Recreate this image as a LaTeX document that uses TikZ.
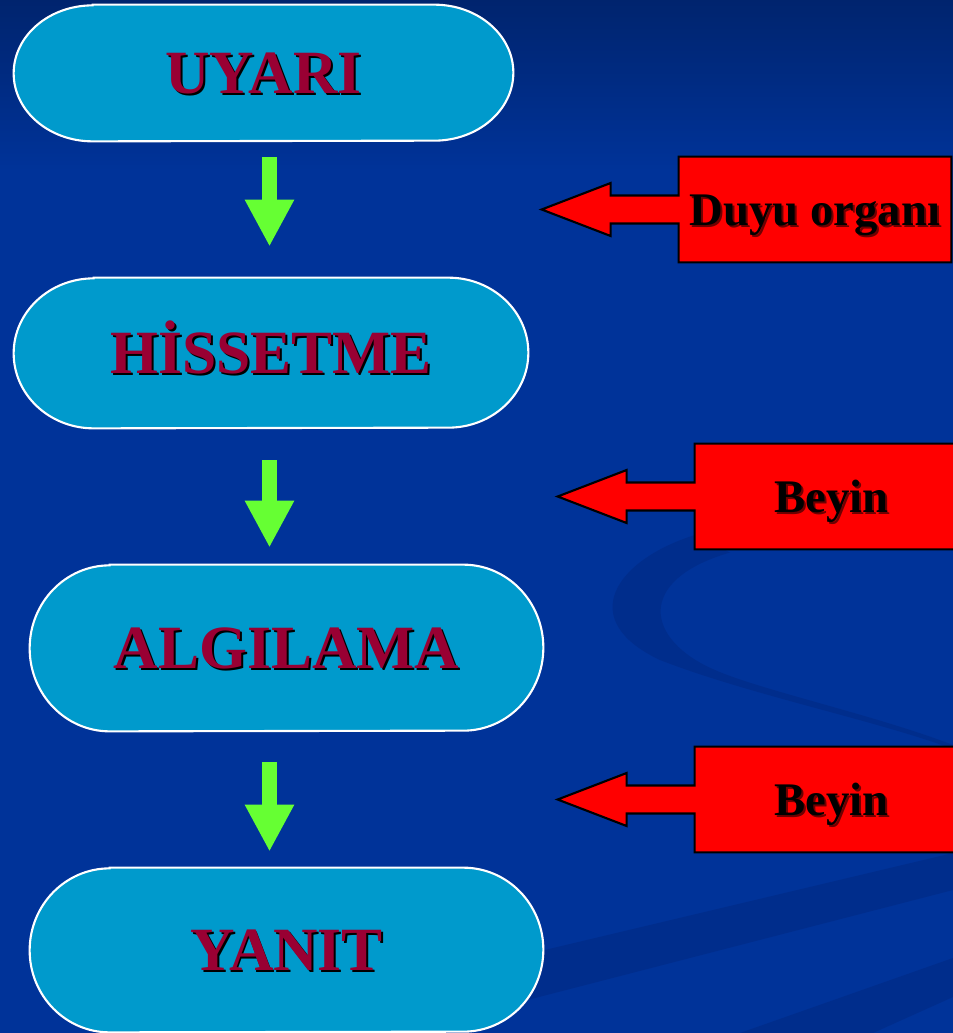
\documentclass[tikz,border=0pt]{standalone}
\usepackage{fontspec}
\setmainfont{Liberation Serif}
\usetikzlibrary{arrows.meta,positioning}
\definecolor{skytop}{RGB}{0,36,110}
\definecolor{skyblue}{RGB}{0,51,153}
\definecolor{swirl}{RGB}{0,45,140}
\definecolor{stagefill}{RGB}{0,154,204}
\definecolor{stagered}{RGB}{153,0,51}
\definecolor{flowgreen}{RGB}{102,255,51}
\definecolor{calloutred}{RGB}{255,0,0}
\definecolor{shadowred}{RGB}{110,0,0}
\pgfdeclarelayer{sky}
\pgfdeclarelayer{shapes}
\pgfsetlayers{sky,shapes,main}
\newcommand{\dropshadowtext}[3]{\rlap{\kern1.1pt\raisebox{-1.1pt}{\textcolor{#2}{#3}}}\textcolor{#1}{#3}}

\begin{document}
\begin{tikzpicture}[
    stage/.style={inner sep=0pt, text height=23.5pt, text depth=0pt,
      font=\bfseries\fontsize{35}{42}\selectfont},
    stadium/.style={fill=stagefill, draw=white, line width=1.2pt},
    flow/.style={flowgreen, line width=0.3cm, -{Triangle[width=0.92cm,length=0.94cm]}},
    callout/.style={inner sep=0pt, text height=17.8pt, text depth=0pt,
      font=\bfseries\fontsize{26.6}{31}\selectfont},
    calloutshape/.style={fill=calloutred, draw=black, line width=1.2pt, line join=miter}]
  \useasboundingbox (0,0) rectangle (19.06,-20.66);

  % background with its swirls
  \begin{pgfonlayer}{sky}
    \fill[skyblue] (0,0) rectangle (19.06,-20.66);
    \shade[top color=skytop, bottom color=skyblue] (0,0) rectangle (19.06,-3.4);
    \fill[swirl] (13.9,-10.7) .. controls (12.3,-11.2) and (11.5,-12.4) .. (13.2,-13.2)
      .. controls (15,-13.9) and (17.5,-14.4) .. (19.06,-14.98) -- (19.06,-14.9)
      .. controls (17.5,-14.3) and (15.2,-13.8) .. (14.3,-13.4)
      .. controls (12.9,-12.8) and (12.7,-11.6) .. (14.6,-11.05) -- cycle;
    \fill[swirl] (9,-19.45) -- (19.06,-17.06) -- (19.06,-17.8) -- (9,-20.4) -- cycle;
    \fill[swirl] (14.8,-20.66) -- (19.06,-19.16) -- (19.06,-19.94) -- (17.46,-20.66) -- cycle;
  \end{pgfonlayer}

  % the four stages
  \node[stage, minimum width=9.98cm, minimum height=2.72cm] (uyari) at (5.27,-1.46)
    {\dropshadowtext{stagered}{black}{UYARI}};
  \node[stage, minimum width=10.28cm, minimum height=3.0cm] (hissetme) at (5.42,-7.06)
    {\dropshadowtext{stagered}{black}{HİSSETME}};
  \node[stage, minimum width=10.26cm, minimum height=3.32cm] (algilama) at (5.73,-12.96)
    {\dropshadowtext{stagered}{black}{ALGILAMA}};
  \node[stage, minimum width=10.26cm, minimum height=3.28cm] (yanit) at (5.73,-19.0)
    {\dropshadowtext{stagered}{black}{YANIT}};

  % the red callouts
  \node[callout, minimum width=5.44cm, minimum height=2.1cm] (duyu) at (16.30,-4.19)
    {\dropshadowtext{black}{shadowred}{Duyu organı}};
  \node[callout, minimum width=5.46cm, minimum height=2.1cm] (beyin1) at (16.63,-9.93)
    {\dropshadowtext{black}{shadowred}{Beyin}};
  \node[callout, minimum width=5.46cm, minimum height=2.1cm] (beyin2) at (16.63,-15.99)
    {\dropshadowtext{black}{shadowred}{Beyin}};

  \begin{pgfonlayer}{shapes}
    \foreach \n/\rx/\ry in {uyari/1.58/1.36, hissetme/1.6/1.5, algilama/1.6/1.66, yanit/1.6/1.64}
      \draw[stadium] ([xshift=\rx cm]\n.north west) -- ([xshift=-\rx cm]\n.north east)
        arc[start angle=90, end angle=-90, x radius=\rx cm, y radius=\ry cm]
        -- ([xshift=\rx cm]\n.south west)
        arc[start angle=270, end angle=90, x radius=\rx cm, y radius=\ry cm] -- cycle;
    \foreach \c in {duyu,beyin1,beyin2}
      \draw[calloutshape] (\c.north west) -- (\c.north east) -- (\c.south east) -- (\c.south west)
        -- ([yshift=-0.28cm]\c.west) -- ++(-1.36,0) -- ++(0,-0.25) -- ++(-1.38,0.53)
        -- ++(1.38,0.53) -- ++(0,-0.25) -- ++(1.36,0) -- cycle;
  \end{pgfonlayer}

  % green flow arrows
  \coordinate (axis) at (5.39,0);
  \draw[flow, shorten <=0.32cm, shorten >=0.62cm] (uyari.south -| axis) -- (hissetme.north -| axis);
  \draw[flow, shorten <=0.64cm, shorten >=0.34cm] (hissetme.south -| axis) -- (algilama.north -| axis);
  \draw[flow, shorten <=0.62cm, shorten >=0.32cm] (algilama.south -| axis) -- (yanit.north -| axis);
\end{tikzpicture}
\end{document}
